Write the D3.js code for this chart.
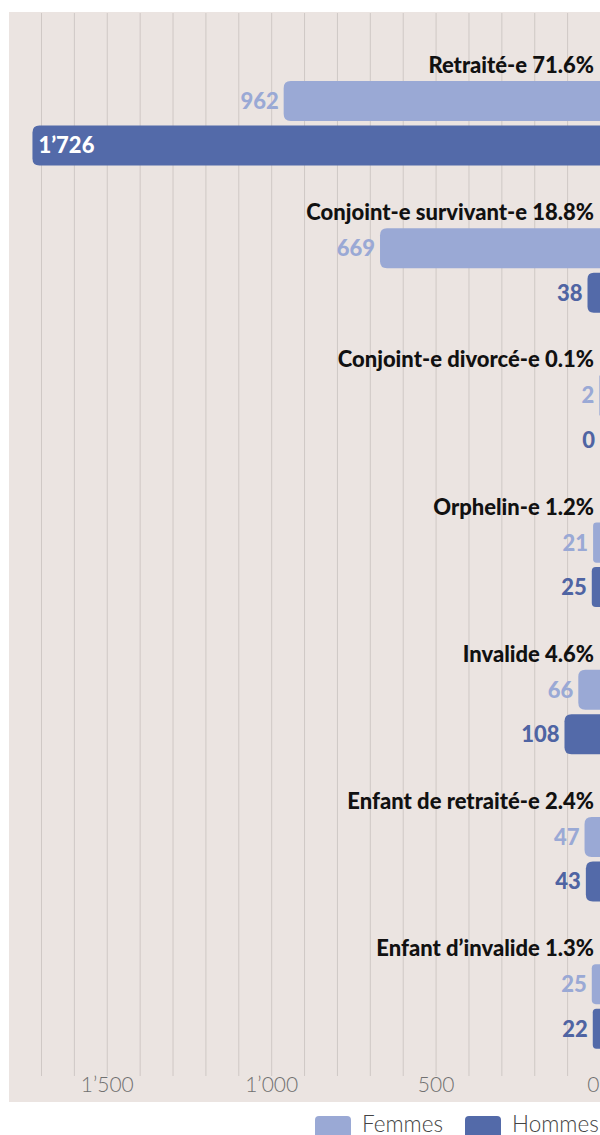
<!DOCTYPE html>
<html>
<head>
<meta charset="utf-8">
<script src="https://cdn.jsdelivr.net/npm/d3@7"></script>
<style>
  body { margin: 0; background: #fff; overflow: hidden; }
  svg { display: block; font-family: Lato, "Noto Sans", sans-serif; }
</style>
</head>
<body>
<div id="plot"></div>
<script>
// data
const categories = ["Retraité-e", "Conjoint-e survivant-e", "Conjoint-e divorcé-e",
      "Orphelin-e", "Invalide", "Enfant de retraité-e", "Enfant d’invalide"];
const shares = [71.6, 18.8, 0.1, 1.2, 4.6, 2.4, 1.3];
const femmes = [962, 669, 2, 21, 66, 47, 25];
const hommes = [1726, 38, 0, 25, 108, 43, 22];
const series = ["Femmes", "Hommes"];
const axisTicks = [0, 500, 1000, 1500];
const gridTicks = [100, 200, 300, 400, 500, 600, 700, 800, 900, 1000,
      1100, 1200, 1300, 1400, 1500, 1600, 1700];

const w = 600;
const h = 1135;
const colors = {Femmes: "#9aa9d5", Hommes: "#536aa9"};
const labelColors = {Femmes: "#9aa9d5", Hommes: "#4f64a3"};

const loc = d3.formatLocale({decimal: ".", thousands: "’", grouping: [3], currency: ["", ""]});
const fmt = loc.format(",d");

const svg = d3.select("div#plot")
      .append("svg")
      .attr("width", w)
      .attr("height", h);

// panel background
svg.append("rect")
      .attr("x", 9)
      .attr("y", 12)
      .attr("width", w)
      .attr("height", 1090)
      .attr("fill", "#ebe4e1");

const xScale = d3.scaleLinear()
      .domain([0, 1700])
      .range([600, 41]);

const yScale = d3.scaleBand()
      .domain(categories)
      .range([40, 40 + 7 * 147.2]);

const inner = d3.scaleBand()
      .domain(series)
      .range([41, 41 + 84.5])
      .paddingInner(0.1);

// vertical gridlines
svg.append("g")
      .attr("class", "grid")
      .attr("transform", "translate(0, 1076)")
      .call(d3.axisBottom(xScale).tickValues(gridTicks).tickSize(-1063).tickFormat(""))
      .call(g => g.select(".domain").remove())
      .call(g => g.selectAll("line").attr("stroke", "#cfc8c5").attr("stroke-width", 1));

// tick labels
svg.append("g")
      .attr("class", "xAxis")
      .attr("transform", "translate(0, 1076)")
      .call(d3.axisBottom(xScale).tickValues(axisTicks).tickSize(0).tickPadding(0).tickFormat(fmt))
      .call(g => g.select(".domain").remove())
      .call(g => g.selectAll("text")
            .attr("y", 16)
            .attr("dy", 0)
            .attr("font-family", "Lato, sans-serif")
            .attr("font-size", 21)
            .attr("font-weight", 300)
            .attr("fill", "#707070")
            .attr("text-anchor", d => d === 0 ? "end" : "middle")
            .attr("dx", d => d === 0 ? -1 : 0));

// bar shape: rounded on the left only
function barPath(x0, x1, y, bh, r) {
      const wd = x1 - x0;
      r = Math.min(r, wd / 2, bh / 2);
      return `M${x1},${y} L${x0 + r},${y} Q${x0},${y} ${x0},${y + r} ` +
            `L${x0},${y + bh - r} Q${x0},${y + bh} ${x0 + r},${y + bh} L${x1},${y + bh} Z`;
}

const rows = categories.map((c, i) => ({
      cat: c, share: shares[i],
      vals: [{s: "Femmes", v: femmes[i]}, {s: "Hommes", v: hommes[i]}]
}));

const groups = svg.selectAll(".row")
      .data(rows)
      .enter()
      .append("g")
      .attr("class", "row")
      .attr("transform", d => `translate(0, ${yScale(d.cat)})`);

groups.append("text")
      .attr("x", 594)
      .attr("y", 33)
      .attr("text-anchor", "end")
      .attr("font-size", 22)
      .attr("font-weight", 900)
      .attr("fill", "#111")
      .text(d => `${d.cat} ${d.share}%`);

const bars = groups.selectAll(".bar")
      .data(d => d.vals)
      .enter();

bars.filter(d => d.v > 0)
      .append("path")
      .attr("class", "bar")
      .attr("fill", d => colors[d.s])
      .attr("d", d => barPath(xScale(d.v), xScale(0), inner(d.s), inner.bandwidth(), 7));

bars.append("text")
      .attr("class", "val")
      .attr("font-size", 22)
      .attr("font-weight", 900)
      .attr("y", d => inner(d.s) + inner.bandwidth() / 2)
      .attr("dy", "0.36em")
      .text(d => fmt(d.v))
      .each(function (d) {
            const t = d3.select(this);
            const tw = this.getComputedTextLength();
            const x0 = xScale(d.v);
            if (x0 - 5 - tw < 12) {
                  t.attr("x", x0 + 6).attr("text-anchor", "start").attr("fill", "#fff");
            } else {
                  t.attr("x", x0 - 5).attr("text-anchor", "end").attr("fill", labelColors[d.s]);
            }
      });

// legend
const legend = svg.append("g")
      .attr("transform", "translate(315, 1116)");
const lx = {Femmes: 0, Hommes: 150};
series.forEach(s => {
      legend.append("rect")
            .attr("x", lx[s])
            .attr("y", 0)
            .attr("width", 36)
            .attr("height", 26)
            .attr("rx", 4)
            .attr("fill", colors[s]);
      legend.append("text")
            .attr("x", lx[s] + 47)
            .attr("y", 16)
            .attr("font-size", 22.5)
            .attr("font-weight", 300)
            .attr("fill", "#444")
            .text(s);
});
</script>
</body>
</html>
